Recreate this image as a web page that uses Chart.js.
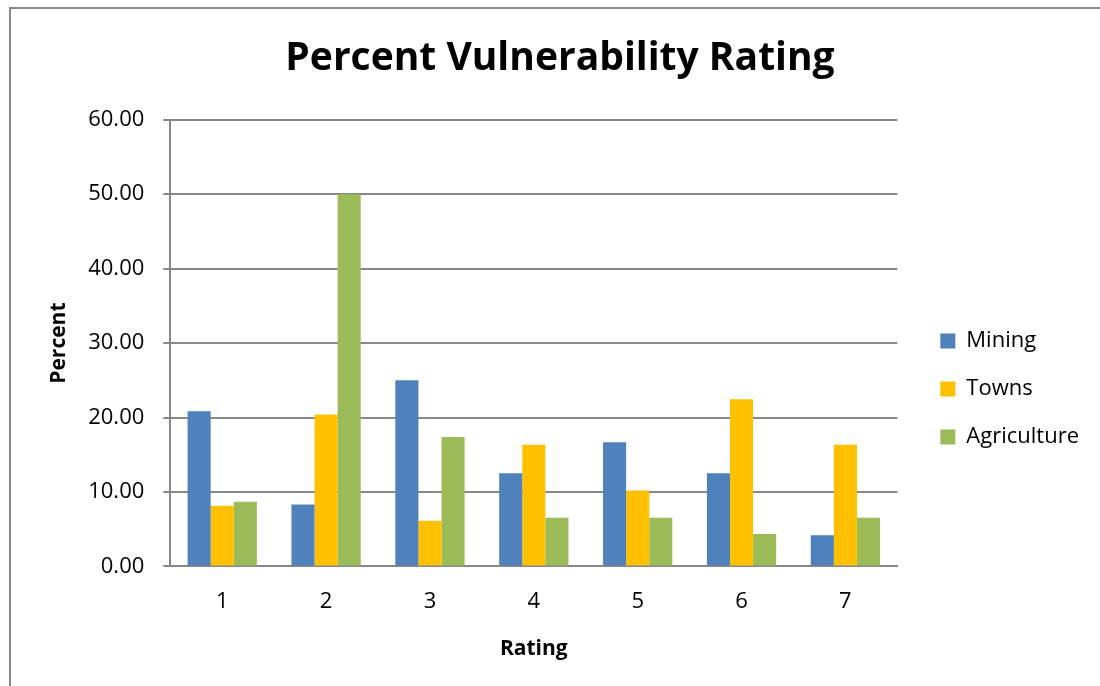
<!DOCTYPE html>
<html>
<head>
<meta charset="utf-8">
<title>Percent Vulnerability Rating</title>
<script src="https://cdn.jsdelivr.net/npm/chart.js@4/dist/chart.umd.min.js"></script>
<style>
    html, body {
        margin: 0;
        padding: 0;
        width: 1100px;
        height: 686px;
        overflow: hidden;
        background: #ffffff;
    }
    .frame {
        position: absolute;
        left: 9px;
        top: 7px;
        width: 1200px;
        height: 800px;
        border: 2px solid #8a8a8a;
    }
    #chart {
        position: absolute;
        left: 10px;
        top: 8px;
    }
</style>
</head>
<body>
<div class="frame"></div>
<canvas id="chart" width="1100" height="762"></canvas>

<script>
// Data
const ratings = ['1', '2', '3', '4', '5', '6', '7'];
const mining = [20.83, 8.33, 25.00, 12.50, 16.67, 12.50, 4.17];
const towns = [8.16, 20.41, 6.12, 16.33, 10.20, 22.45, 16.33];
const agriculture = [8.70, 50.00, 17.39, 6.52, 6.52, 4.35, 6.52];
const yTicks = [0, 10, 20, 30, 40, 50, 60];

const font = 'Open Sans';
const gridGray = '#888888';

const ctx = document.getElementById('chart').getContext('2d');
new Chart(ctx, {
    type: 'bar',
    data: {
        labels: ratings,
        datasets: [
            { label: 'Mining', data: mining, backgroundColor: '#4F81BD' },
            { label: 'Towns', data: towns, backgroundColor: '#FFC000' },
            { label: 'Agriculture', data: agriculture, backgroundColor: '#9BBB59' }
        ]
    },
    options: {
        responsive: false,
        animation: false,
        layout: { padding: { left: 21, right: 21, top: 0, bottom: 0 } },
        datasets: {
            bar: { categoryPercentage: 0.667, barPercentage: 1.0 }
        },
        plugins: {
            title: {
                display: true,
                text: 'Percent Vulnerability Rating',
                color: '#000',
                font: { family: font, size: 39, weight: 'bold' },
                padding: { top: 27, bottom: 38 }
            },
            legend: {
                position: 'right',
                labels: {
                    color: '#000',
                    font: { family: font, size: 22 },
                    boxWidth: 15,
                    boxHeight: 15,
                    padding: 26
                }
            },
            tooltip: { enabled: false }
        },
        scales: {
            x: {
                grid: { display: false, drawTicks: false },
                border: { display: true, color: gridGray, width: 2 },
                ticks: {
                    color: '#000',
                    font: { family: font, size: 22 },
                    padding: 22
                },
                title: {
                    display: true,
                    text: 'Rating',
                    color: '#000',
                    font: { family: font, size: 21, weight: 'bold' },
                    padding: { top: 0, bottom: 108 }
                }
            },
            y: {
                min: 0,
                max: 60,
                afterBuildTicks: scale => {
                    scale.ticks = yTicks.map(v => ({ value: v }));
                },
                grid: { color: gridGray, lineWidth: 2, tickLength: 7 },
                border: { display: true, color: gridGray, width: 2 },
                ticks: {
                    color: '#000',
                    font: { family: font, size: 22 },
                    padding: 19,
                    callback: v => v.toFixed(2)
                },
                title: {
                    display: true,
                    text: 'Percent',
                    color: '#000',
                    font: { family: font, size: 21, weight: 'bold' },
                    padding: { top: 15, bottom: -2 }
                }
            },
            // empty axis, only keeps the gap between plot and legend
            gap: {
                type: 'linear',
                position: 'right',
                grid: { display: false },
                border: { display: false },
                ticks: { display: false },
                afterFit: scale => { scale.width = 17; }
            }
        }
    }
});
</script>
</body>
</html>
